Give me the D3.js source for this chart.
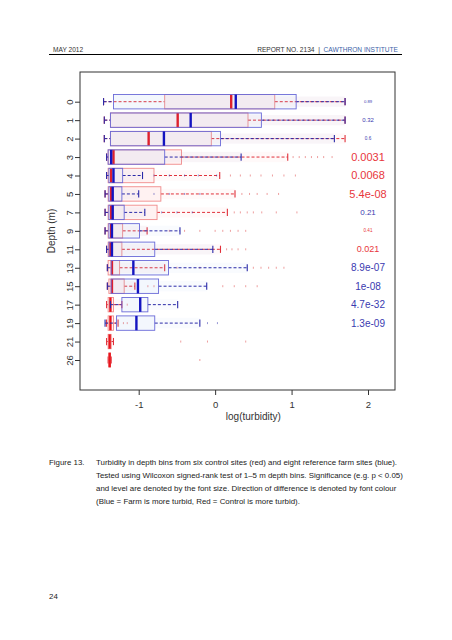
<!DOCTYPE html>
<html><head><meta charset="utf-8">
<script src="https://cdn.jsdelivr.net/npm/d3@7"></script>
<style>
html,body{margin:0;padding:0;background:#fff;}
svg{display:block;font-family:"Liberation Sans",Arial,sans-serif;}
</style></head>
<body>
<svg id="c" width="452" height="640"></svg>
<script>
// ---- data (log turbidity) ----
const depths = ["0","1","2","3","4","5","7","9","11","13","15","17","19","21","26"];
// control sites (red): lower whisker, Q1, median, Q3, upper whisker
const redLow  = [-1.46,-1.45,-1.45,-1.42,-1.42,-1.44,-1.44,-1.44,-1.42,-1.41,-1.41,-1.42,-1.42,-1.42,-1.40];
const redQ1   = [-0.66,-1.37,-1.37,-1.40,-1.40,-1.40,-1.40,-1.40,-1.40,-1.40,-1.39,-1.40,-1.40,-1.40,-1.39];
const redMed  = [ 0.21,-0.49,-0.87,-1.33,-1.36,-1.36,-1.36,-1.36,-1.37,-1.35,-1.35,-1.37,-1.37,-1.38,-1.38];
const redQ3   = [ 0.78, 0.43,-0.05,-0.44,-0.80,-0.71,-0.76,-1.21,-1.22,-1.25,-1.19,-1.33,-1.33,-1.36,-1.37];
const redHigh = [ 1.70, 1.70, 1.70, 0.95, 0.06, 0.26, 0.16,-0.89, 0.07,-0.66,-1.05,-1.22,-1.27,-1.33,-1.36];
// farm sites (blue)
const blueLow  = [-1.46,-1.45,-1.45,-1.42,-1.42,-1.44,-1.44,-1.44,-1.42,-1.41,-1.41,-1.37,-1.44,null,null];
const blueQ1   = [-1.33,-1.37,-1.37,-1.40,-1.39,-1.39,-1.39,-1.39,-1.39,-1.36,-1.36,-1.22,-1.29,null,null];
const blueMed  = [ 0.27,-0.32,-0.67,-1.36,-1.33,-1.34,-1.34,-1.35,-1.35,-1.07,-1.01,-0.98,-1.03,null,null];
const blueQ3   = [ 1.06, 0.605,0.07,-0.66,-1.21,-1.22,-1.19,-0.99,-0.79,-0.61,-0.74,-0.88,-0.79,null,null];
const blueHigh = [ 1.70, 1.70, 1.56, 0.34,-0.95,-1.00,-0.92,-0.46,-0.03, 0.42,-0.11,-0.49,-0.20,null,null];
// outliers beyond the whiskers
const redOut = [[],[],[],
  [1.02,1.1,1.18,1.26,1.34,1.42,1.53],
  [0.2,0.33,0.46,0.6,0.75,0.9,1.05],
  [0.35,0.45,0.55,0.68,0.83],
  [0.25,0.33,0.42,0.5,0.61,0.8,1.07],
  [-0.6,-0.4,-0.2,0.0,0.1,0.2,0.3,0.4],
  [0.15,0.22,0.3,0.4],
  [-0.5,-0.2,0.5,0.6,0.7,0.8,0.9],
  [-0.88,-0.8,0.1,0.25,0.4,0.55],
  [-1.15],
  [-1.2,-1.15],
  [-0.45,-0.1,0.4],
  [-0.2]];
const blueOut = [[],[],[],[],
  [-0.8,-0.6,-0.4,-0.22,0.02],
  [-0.8,-0.6,-0.4,-0.2],
  [-0.7,-0.5,-0.3],
  [],[],[],[],[],
  [-0.1,0.03],[],[]];
// Wilcoxon p-values, text size and direction (B = farm more turbid, R = control)
const pText = ["0.89","0.32","0.6","0.0031","0.0068","5.4e-08","0.21","0.41","0.021","8.9e-07","1e-08","4.7e-32","1.3e-09","",""];
const pSize = [4.2,6,4.6,11,11,11,8,4.6,9,10,10,10,10,0,0];
const pDir  = ["B","B","B","R","R","R","B","R","R","B","B","B","B","",""];
const xTicks = [-1,0,1,2];
const captionLines = [
  "Turbidity in depth bins from six control sites (red) and eight reference farm sites (blue).",
  "Tested using Wilcoxon signed-rank test of 1–5 m depth bins. Significance (e.g. p < 0.05)",
  "and level are denoted by the font size. Direction of difference is denoted by font colour",
  "(Blue = Farm is more turbid, Red = Control is more turbid)."];

const svg = d3.select("#c");
const frame = {l:80, t:72, r:395, b:390};
const x = d3.scaleLinear().domain([-1,2]).range([138.7,368]);
const y = d3.scalePoint().domain(depths).range([101.7,360]);

// header
svg.append("text").attr("x",53).attr("y",52).attr("font-size",6.6).attr("fill","#333").text("MAY 2012");
const hdr = svg.append("text").attr("x",398).attr("y",52).attr("font-size",6.6).attr("text-anchor","end").attr("fill","#333").attr("xml:space","preserve");
hdr.append("tspan").text("REPORT NO. 2134  |  ");
hdr.append("tspan").attr("fill","#3d5fa8").text("CAWTHRON INSTITUTE");
svg.append("line").attr("x1",49).attr("x2",402).attr("y1",54.5).attr("y2",54.5).attr("stroke","#000").attr("stroke-width",1);

// frame
svg.append("rect").attr("x",frame.l).attr("y",frame.t).attr("width",frame.r-frame.l).attr("height",frame.b-frame.t)
  .attr("fill","none").attr("stroke","#333").attr("stroke-width",1);

// x axis
const xa = svg.append("g").attr("transform",`translate(0,${frame.b})`)
  .call(d3.axisBottom(x).tickValues(xTicks).tickSize(5).tickPadding(6).tickFormat(d => String(d)));
xa.select(".domain").remove();
xa.selectAll("line").attr("stroke","#333");
xa.selectAll("text").attr("font-size",9.5).attr("fill","#333").attr("font-family","Liberation Sans,Arial,sans-serif");
svg.append("text").attr("x",x(0.5)).attr("y",420).attr("text-anchor","middle").attr("font-size",10).attr("fill","#333").text("log(turbidity)");

// y axis
const ya = svg.append("g").attr("transform",`translate(${frame.l},0)`)
  .call(d3.axisLeft(y).tickSize(5).tickPadding(3));
ya.select(".domain").remove();
ya.selectAll("line").attr("stroke","#333");
ya.selectAll("text").attr("font-size",9.5).attr("fill","#333").attr("font-family","Liberation Sans,Arial,sans-serif")
  .attr("text-anchor","middle").attr("dy",0).attr("x",0).attr("y",0)
  .attr("transform","translate(-7,0) rotate(-90)");
svg.append("text").attr("transform",`translate(55,${(frame.t+frame.b)/2}) rotate(-90)`).attr("text-anchor","middle")
  .attr("font-size",10).attr("fill","#333").text("Depth (m)");

// boxplots
const H = 7.2, C = 3.6;
function drawBox(g, lo, q1, md, q3, hi, outs, col) {
  depths.forEach((d,i) => {
    if (md[i] === null) return;
    const cy = y(d);
    // haze of the jittered observations
    g.append("rect").attr("x",x(q1[i])).attr("y",cy-H).attr("width",Math.max(0.5,x(q3[i])-x(q1[i]))).attr("height",2*H)
      .attr("fill",col.fill).attr("opacity",0.09);
    g.append("rect").attr("x",x(q3[i])).attr("y",cy-H+2).attr("width",Math.max(0,x(hi[i])-x(q3[i]))).attr("height",2*H-4)
      .attr("fill",col.fill).attr("opacity",0.045);
    // whiskers
    g.append("line").attr("x1",x(lo[i])).attr("x2",x(q1[i])).attr("y1",cy).attr("y2",cy)
      .attr("stroke",col.wh).attr("stroke-width",1).attr("stroke-dasharray","3,2");
    g.append("line").attr("x1",x(q3[i])).attr("x2",x(hi[i])).attr("y1",cy).attr("y2",cy)
      .attr("stroke",col.wh).attr("stroke-width",1).attr("stroke-dasharray","3,2");
    [lo[i],hi[i]].forEach(v => g.append("line").attr("x1",x(v)).attr("x2",x(v)).attr("y1",cy-C).attr("y2",cy+C)
      .attr("stroke",col.wh).attr("stroke-width",1.1));
    // box
    g.append("rect").attr("x",x(q1[i])).attr("y",cy-H).attr("width",Math.max(0.5,x(q3[i])-x(q1[i]))).attr("height",2*H)
      .attr("fill","none").attr("stroke",col.box).attr("stroke-width",0.9);
    // median
    g.append("line").attr("x1",x(md[i])).attr("x2",x(md[i])).attr("y1",cy-H).attr("y2",cy+H)
      .attr("stroke",col.med).attr("stroke-width",2.4);
    // outliers
    outs[i].forEach(v => g.append("rect").attr("x",x(v)-0.5).attr("y",cy-1).attr("width",1).attr("height",2)
      .attr("fill",col.out).attr("opacity",0.55));
  });
}
drawBox(svg.append("g"), redLow, redQ1, redMed, redQ3, redHigh, redOut,
  {fill:"#ff6b6b", wh:"#e0303a", box:"#f08a8a", med:"#e8141c", out:"#e05050"});
drawBox(svg.append("g"), blueLow, blueQ1, blueMed, blueQ3, blueHigh, blueOut,
  {fill:"#7aa6e6", wh:"#2a2aa8", box:"#6a6ad8", med:"#1414c0", out:"#4040b0"});

// p-values
depths.forEach((d,i) => {
  if (!pText[i]) return;
  svg.append("text").attr("x",368).attr("y",y(d)).attr("dy","0.35em").attr("text-anchor","middle")
    .attr("font-size",pSize[i]).attr("fill",pDir[i]==="R" ? "#e8363c" : "#3a3ab0").text(pText[i]);
});

// caption
svg.append("text").attr("x",49).attr("y",465).attr("font-size",7.9).attr("fill","#222").text("Figure 13.");
captionLines.forEach((t,i) => {
  svg.append("text").attr("x",96).attr("y",465 + i*13).attr("font-size",7.9).attr("fill","#222").text(t);
});
svg.append("text").attr("x",49).attr("y",599).attr("font-size",7.9).attr("fill","#222").text("24");
</script>
</body></html>
